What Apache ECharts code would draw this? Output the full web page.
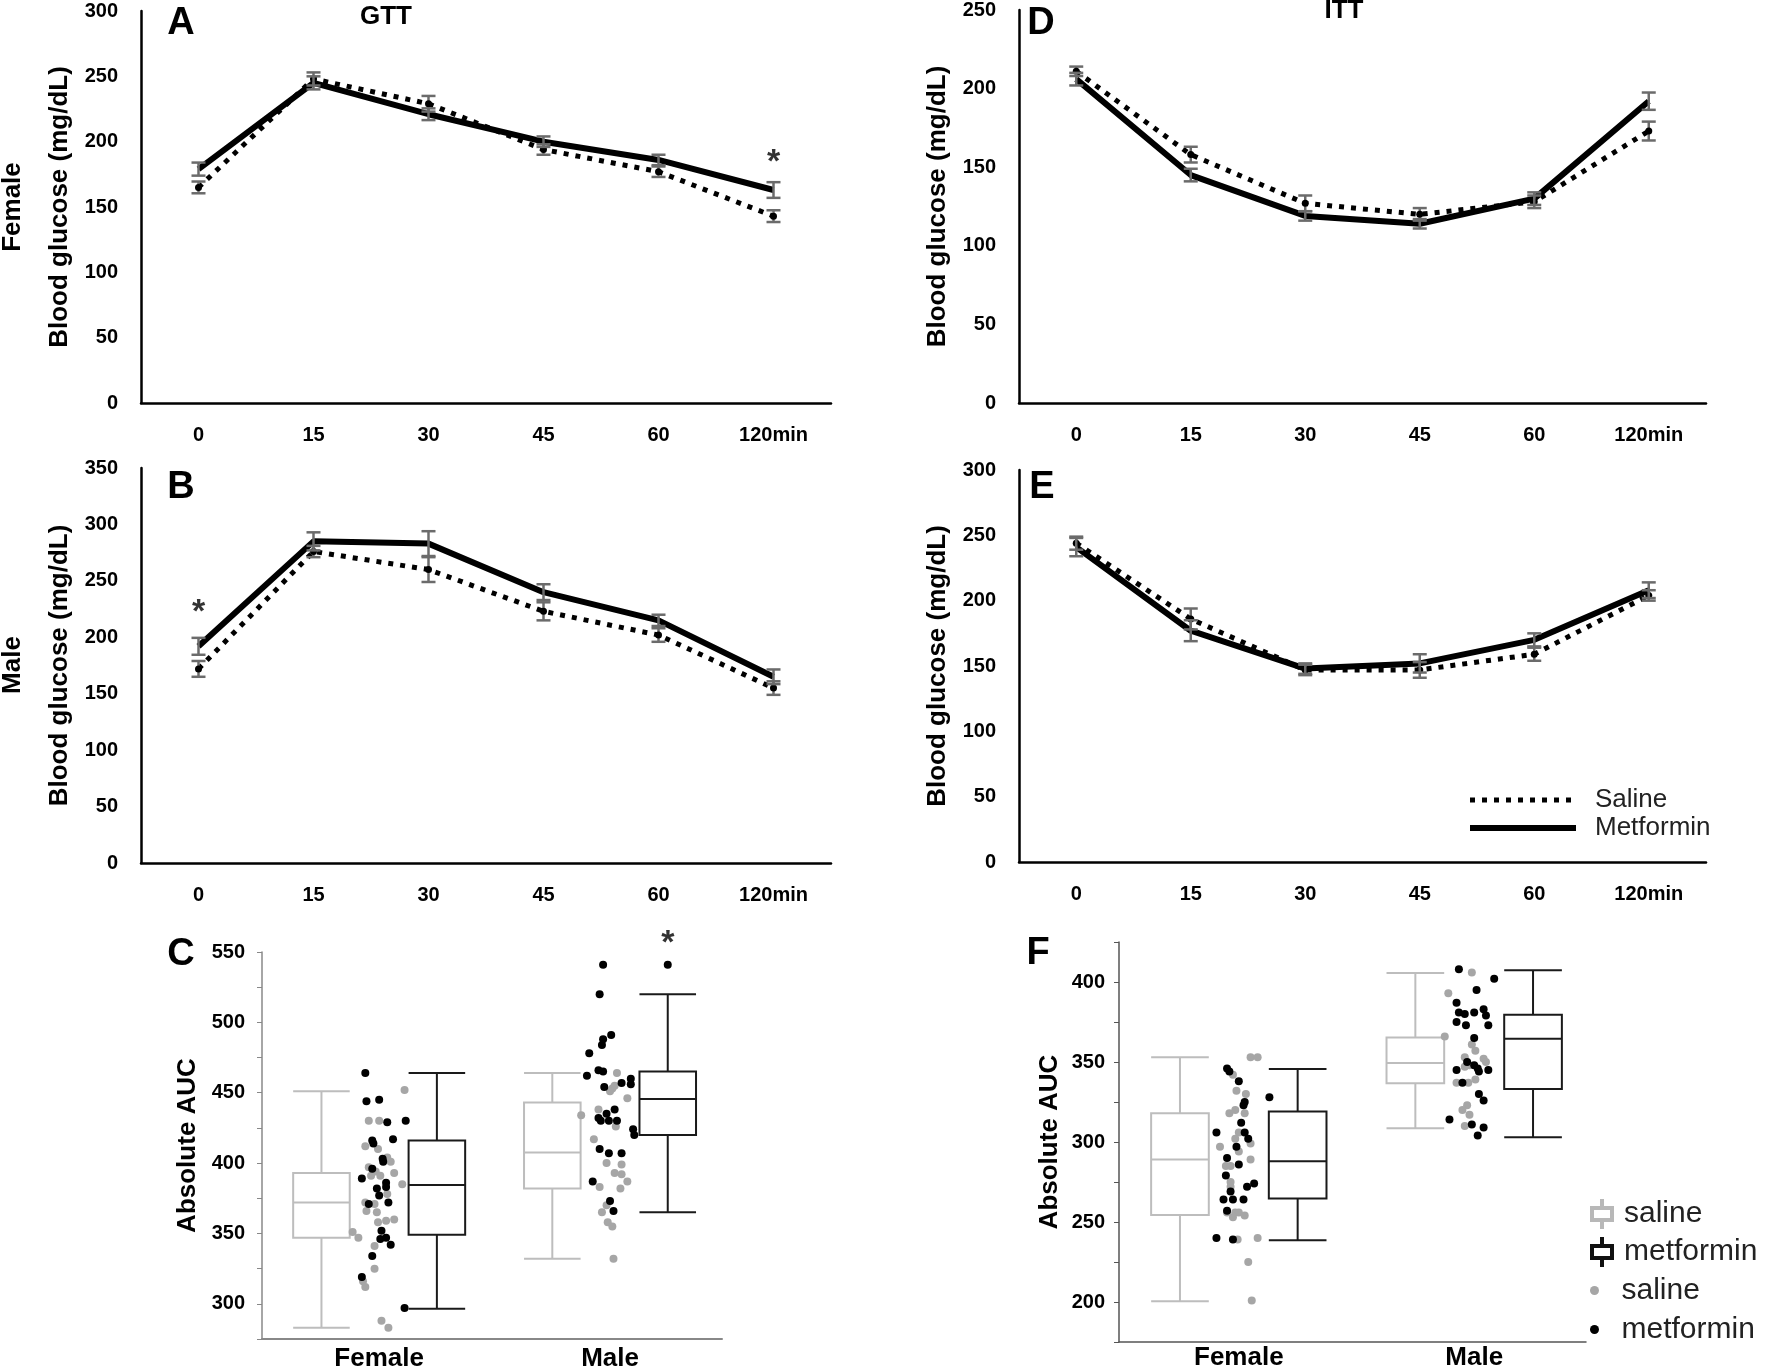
<!DOCTYPE html>
<html>
<head>
<meta charset="utf-8">
<script src="https://cdn.jsdelivr.net/npm/echarts@6/dist/echarts.min.js"></script>
<style>
  html, body { margin: 0; background: #fff; }
  #main { width: 1765px; height: 1372px; }
</style>
</head>
<body>
<div id="main"></div>
<script>
// time points (min)
const timePoints = ['0', '15', '30', '45', '60', '120min'];

// A: GTT female
const gttFemaleSaline = [165, 248, 229, 194, 177, 143];
const gttFemaleSalineErr = [4.5, 5, 6, 4, 4, 4.5];
const gttFemaleMet = [179, 245, 221, 200, 186, 163];
const gttFemaleMetErr = [5, 5, 4.5, 4, 4, 6];

// B: GTT male
const gttMaleSaline = [172, 276, 260, 223, 202, 155];
const gttMaleSalineErr = [7, 5, 11, 8, 6, 6];
const gttMaleMet = [192, 285, 283, 240, 215, 165];
const gttMaleMetErr = [7.5, 8, 11, 7, 5, 6.5];

// D: ITT female
const ittFemaleSaline = [211, 158, 127, 120, 128, 173];
const ittFemaleSalineErr = [3, 5, 5, 4, 4, 6];
const ittFemaleMet = [206, 145, 119, 114, 130, 192];
const ittFemaleMetErr = [4, 4, 3, 3, 4, 5.5];

// E: ITT male
const ittMaleSaline = [244, 186, 147, 147, 159, 204];
const ittMaleSalineErr = [5, 8, 4, 6, 5, 4];
const ittMaleMet = [241, 177, 148, 152, 170, 208];
const ittMaleMetErr = [7, 8, 4, 7, 5, 6];

// significance marks [time index, height]
const starA = [[5, 184]];
const starB = [[0, 222]];

// C / F groups
const groups = ['Female', 'Male'];

// C: GTT AUC boxes [min, q1, median, q3, max] per group
const gttAucSalineBox = [[283, 347, 372, 393, 451], [332, 382, 407.5, 443, 464]];
const gttAucMetBox = [[296.5, 349, 384.5, 416, 464], [365, 420, 445.5, 465, 520]];
const gttAucMetOutliers = [[], [541]];
const starC = [[4, 556]];
// individual animals [jitter, AUC]
const gttFemaleSalineDots = [[-0.23, 351], [-0.18, 347], [-0.12, 412], [-0.09, 430], [0.00, 430], [-0.01, 410],
  [-0.09, 397], [-0.03, 394], [-0.07, 391], [0.01, 391], [0.07, 404], [0.10, 401], [0.13, 393], [0.20, 385],
  [0.22, 452], [-0.12, 372], [-0.11, 366], [-0.04, 371], [-0.02, 365], [-0.01, 358], [0.06, 359], [0.13, 360],
  [-0.04, 341], [-0.04, 325], [-0.12, 312], [-0.14, 316], [0.02, 288], [0.08, 283], [0.07, 378]];
const gttFemaleMetDots = [[-0.12, 464], [-0.11, 444], [0.00, 445], [0.07, 429], [-0.06, 416], [-0.05, 414],
  [0.12, 417], [0.23, 430], [0.03, 403], [0.035, 401], [-0.06, 396], [-0.15, 389], [0.06, 386], [-0.02, 382],
  [0.06, 383], [0.00, 377], [0.08, 372], [-0.09, 371], [0.02, 352], [0.01, 346], [0.06, 347], [0.10, 342],
  [-0.06, 334], [-0.15, 319], [0.22, 297]];
const gttMaleSalineDots = [[0.06, 464], [0.02, 453], [0.04, 455], [0.00, 451], [0.15, 446], [-0.25, 434],
  [-0.10, 438], [0.05, 426], [-0.14, 417], [-0.03, 400], [0.04, 393], [0.10, 399], [0.10, 392], [0.15, 387],
  [-0.09, 383], [0.09, 382], [-0.03, 370], [-0.07, 365], [-0.02, 358], [0.02, 355], [0.03, 332]];
const gttMaleMetDots = [[-0.06, 541], [-0.09, 520], [0.01, 491], [-0.06, 488], [-0.07, 484], [-0.18, 478],
  [-0.10, 466], [-0.06, 465], [-0.20, 462], [-0.05, 454], [0.04, 438], [-0.03, 435], [-0.10, 432], [-0.08, 430],
  [-0.01, 430], [0.06, 430], [0.10, 457], [0.18, 460], [0.18, 456], [0.20, 424], [0.21, 420], [-0.09, 410],
  [-0.01, 407], [0.10, 407], [-0.15, 387], [0.00, 373], [0.03, 366]];

// F: ITT AUC boxes
const ittAucSalineBox = [[200.4, 254.3, 289, 318, 353], [308.6, 336.7, 349.3, 365.3, 405.6]];
const ittAucMetBox = [[238.6, 264.7, 288, 319, 345.7], [303, 333.2, 364.5, 379.5, 407.3]];
const ittFemaleSalineDots = [[0.10, 353], [0.16, 353], [-0.05, 342], [-0.02, 332], [0.06, 330], [-0.08, 318],
  [-0.03, 320], [0.05, 318], [0.00, 306], [-0.16, 297], [-0.03, 302], [0.10, 299], [0.00, 294], [-0.11, 285],
  [-0.07, 285], [0.10, 289], [-0.07, 275], [-0.07, 272], [-0.10, 256], [-0.03, 256], [0.00, 256], [-0.05, 253],
  [0.05, 254], [-0.01, 239], [0.16, 240], [0.08, 225], [0.11, 201]];
const ittFemaleMetDots = [[-0.19, 306], [-0.10, 346], [-0.08, 344], [0.00, 338], [0.05, 325], [0.04, 323],
  [0.02, 312], [0.05, 306], [0.08, 302], [-0.10, 290], [-0.02, 297], [0.00, 286], [-0.11, 279], [-0.07, 269],
  [-0.13, 264], [-0.05, 264], [0.04, 264], [0.07, 272], [0.13, 274], [-0.10, 257], [-0.19, 240], [-0.05, 239],
  [0.26, 328]];
const ittMaleSalineDots = [[-0.02, 406], [-0.22, 393], [-0.25, 366], [-0.02, 361], [0.01, 357], [-0.08, 353],
  [0.08, 352], [0.10, 350], [-0.04, 348], [-0.08, 347], [0.01, 339], [-0.15, 337], [-0.05, 337], [-0.06, 323],
  [-0.10, 320], [-0.04, 317], [-0.08, 310]];
const ittMaleMetDots = [[-0.13, 408], [0.17, 402], [0.02, 395], [-0.15, 387], [-0.13, 381], [-0.08, 380],
  [0.00, 381], [0.08, 383], [0.10, 379], [0.12, 373], [-0.15, 375], [-0.07, 373], [0.00, 365], [-0.06, 350],
  [0.00, 348], [0.04, 344], [0.03, 346], [0.12, 345], [-0.15, 345], [-0.10, 337], [0.04, 330], [0.08, 326],
  [-0.21, 314], [-0.02, 311], [0.08, 309], [0.03, 304]];

// AUC axis label values
const gttAucLabels = [300, 350, 400, 450, 500, 550];
const ittAucLabels = [200, 250, 300, 350, 400];

const FF = '"Liberation Sans", Arial, sans-serif';
const chart = echarts.init(document.getElementById('main'));

function errorBarItem(withDot) {
  return function (params, api) {
    const i = api.value(0), v = api.value(1), e = api.value(2);
    const hi = api.coord([i, v + e]);
    const lo = api.coord([i, v - e]);
    const c = api.coord([i, v]);
    const w = 7;
    const st = { stroke: '#6b6b6b', lineWidth: 2.5 };
    const kids = [
      { type: 'line', shape: { x1: hi[0], y1: hi[1], x2: lo[0], y2: lo[1] }, style: st },
      { type: 'line', shape: { x1: hi[0] - w, y1: hi[1], x2: hi[0] + w, y2: hi[1] }, style: st },
      { type: 'line', shape: { x1: lo[0] - w, y1: lo[1], x2: lo[0] + w, y2: lo[1] }, style: st }
    ];
    if (withDot) kids.push({ type: 'circle', shape: { cx: c[0], cy: c[1], r: 3.5 }, style: { fill: '#000' } });
    return { type: 'group', children: kids };
  };
}

function boxItem(color) {
  return function (params, api) {
    const x = api.value(0);
    const p = [1, 2, 3, 4, 5].map(k => api.coord([x, api.value(k)]));
    const half = api.size([0.49, 0])[0] / 2;
    const cx = p[0][0];
    const st = { stroke: color, lineWidth: 2, fill: null };
    return {
      type: 'group',
      children: [
        { type: 'line', shape: { x1: cx, y1: p[4][1], x2: cx, y2: p[3][1] }, style: st },
        { type: 'line', shape: { x1: cx, y1: p[1][1], x2: cx, y2: p[0][1] }, style: st },
        { type: 'line', shape: { x1: cx - half, y1: p[4][1], x2: cx + half, y2: p[4][1] }, style: st },
        { type: 'line', shape: { x1: cx - half, y1: p[0][1], x2: cx + half, y2: p[0][1] }, style: st },
        { type: 'rect', shape: { x: cx - half, y: p[3][1], width: half * 2, height: p[1][1] - p[3][1] },
          style: { stroke: color, lineWidth: 2, fill: '#fff' } },
        { type: 'line', shape: { x1: cx - half, y1: p[2][1], x2: cx + half, y2: p[2][1] }, style: st }
      ]
    };
  };
}

const lineGrids = [
  { left: 141, top: 11, width: 690, height: 392 },
  { left: 141, top: 468, width: 690, height: 395 },
  { left: 1019, top: 10, width: 687, height: 393 },
  { left: 1019, top: 470, width: 687, height: 392 }
];
const lineMax = [300, 350, 250, 300];
const lineData = [
  [gttFemaleSaline, gttFemaleSalineErr, gttFemaleMet, gttFemaleMetErr, starA],
  [gttMaleSaline, gttMaleSalineErr, gttMaleMet, gttMaleMetErr, starB],
  [ittFemaleSaline, ittFemaleSalineErr, ittFemaleMet, ittFemaleMetErr, []],
  [ittMaleSaline, ittMaleSalineErr, ittMaleMet, ittMaleMetErr, []]
];

const xAxes = [], yAxes = [], series = [];

lineGrids.forEach((g, k) => {
  xAxes.push({
    gridIndex: k, type: 'category', data: timePoints, boundaryGap: true,
    axisLine: { lineStyle: { color: '#000', width: 2.5 } },
    axisTick: { show: false },
    axisLabel: { color: '#000', fontSize: 20, fontWeight: 'bold', fontFamily: FF, margin: 22 }
  });
  yAxes.push({
    gridIndex: k, type: 'value', min: 0, max: lineMax[k], interval: 50,
    name: 'Blood glucose (mg/dL)', nameLocation: 'middle', nameGap: 68,
    nameTextStyle: { color: '#000', fontSize: 26, fontWeight: 'bold', fontFamily: FF },
    axisLine: { show: true, lineStyle: { color: '#000', width: 2.5 } },
    axisTick: { show: false },
    splitLine: { show: false },
    axisLabel: { color: '#000', fontSize: 20, fontWeight: 'bold', fontFamily: FF, margin: 23 }
  });
  const [sal, salErr, met, metErr, star] = lineData[k];
  series.push({
    name: 'Saline', type: 'line', xAxisIndex: k, yAxisIndex: k, data: sal, symbol: 'none', z: 2,
    lineStyle: { color: '#000', width: 5, type: [5, 7] }, itemStyle: { color: '#000' }
  });
  series.push({
    name: 'Metformin', type: 'line', xAxisIndex: k, yAxisIndex: k, data: met, symbol: 'none', z: 2,
    lineStyle: { color: '#000', width: 6 }, itemStyle: { color: '#000' }
  });
  series.push({
    type: 'custom', xAxisIndex: k, yAxisIndex: k, z: 3, silent: true,
    data: sal.map((v, i) => [i, v, salErr[i]]), renderItem: errorBarItem(true)
  });
  series.push({
    type: 'custom', xAxisIndex: k, yAxisIndex: k, z: 3, silent: true,
    data: met.map((v, i) => [i, v, metErr[i]]), renderItem: errorBarItem(false)
  });
  if (star.length) {
    series.push({
      type: 'scatter', xAxisIndex: k, yAxisIndex: k, data: star, symbolSize: 1, silent: true,
      itemStyle: { color: 'transparent' },
      label: { show: true, position: 'inside', formatter: '*', color: '#000', fontSize: 34, fontWeight: 'bold', fontFamily: FF }
    });
  }
});

// box panels
const boxGrids = [
  { left: 262, top: 952, width: 460, height: 390 },
  { left: 1119, top: 942, width: 467, height: 400 }
];
const boxPanels = [
  { xmin: 0.485, xmax: 4.47, ymin: 275, ymax: 550, labels: gttAucLabels, nameGap: 61, labelMargin: 7, yMargin: 17,
    sal: gttAucSalineBox, met: gttAucMetBox, salDots: [gttFemaleSalineDots, gttMaleSalineDots],
    metDots: [gttFemaleMetDots, gttMaleMetDots], outliers: gttAucMetOutliers, star: starC },
  { xmin: 0.482, xmax: 4.45, ymin: 175, ymax: 425, labels: ittAucLabels, nameGap: 56, labelMargin: 3, yMargin: 14,
    sal: ittAucSalineBox, met: ittAucMetBox, salDots: [ittFemaleSalineDots, ittMaleSalineDots],
    metDots: [ittFemaleMetDots, ittMaleMetDots], outliers: [[], []], star: [] }
];

boxPanels.forEach((b, j) => {
  const k = 4 + j;
  xAxes.push({
    gridIndex: k, type: 'value', min: b.xmin, max: b.xmax,
    axisLine: { lineStyle: { color: j === 0 ? '#888' : '#555', width: j === 0 ? 2 : 1.5 } },
    axisTick: { show: false }, splitLine: { show: false },
    axisLabel: {
      customValues: [1.5, 3.5], margin: b.labelMargin,
      formatter: v => groups[Math.round((v - 1.5) / 2)] || '',
      color: '#000', fontSize: 26, fontWeight: 'bold', fontFamily: FF
    }
  });
  yAxes.push({
    gridIndex: k, type: 'value', min: b.ymin, max: b.ymax, interval: 25,
    name: 'Absolute AUC', nameLocation: 'middle', nameGap: b.nameGap,
    nameTextStyle: { color: '#000', fontSize: 26, fontWeight: 'bold', fontFamily: FF },
    axisLine: { show: true, lineStyle: { color: j === 0 ? '#888' : '#555', width: 1.5 } },
    axisTick: { show: true, length: 5, lineStyle: { color: j === 0 ? '#888' : '#555' } },
    splitLine: { show: false },
    axisLabel: {
      margin: b.yMargin, formatter: v => (b.labels.indexOf(v) >= 0 ? String(v) : ''),
      color: '#000', fontSize: 20, fontWeight: 'bold', fontFamily: FF
    }
  });
  series.push({
    name: 'saline box', type: 'custom', xAxisIndex: k, yAxisIndex: k, z: 2,
    itemStyle: { color: '#b8b8b8' },
    data: b.sal.map((s, g) => [2 * g + 1].concat(s)), renderItem: boxItem('#bdbdbd')
  });
  series.push({
    name: 'metformin box', type: 'custom', xAxisIndex: k, yAxisIndex: k, z: 2,
    itemStyle: { color: '#111' },
    data: b.met.map((s, g) => [2 * g + 2].concat(s)), renderItem: boxItem('#1a1a1a')
  });
  const salPts = [], metPts = [];
  b.salDots.forEach((arr, g) => arr.forEach(d => salPts.push([2 * g + 1.5 + d[0], d[1]])));
  b.metDots.forEach((arr, g) => arr.forEach(d => metPts.push([2 * g + 1.5 + d[0], d[1]])));
  b.outliers.forEach((arr, g) => arr.forEach(v => metPts.push([2 * g + 2, v])));
  series.push({
    name: 'saline dot', type: 'scatter', xAxisIndex: k, yAxisIndex: k, z: 3, symbolSize: 8,
    itemStyle: { color: '#a6a6a6', opacity: 1 }, data: salPts
  });
  series.push({
    name: 'metformin dot', type: 'scatter', xAxisIndex: k, yAxisIndex: k, z: 4, symbolSize: 8,
    itemStyle: { color: '#000', opacity: 1 }, data: metPts
  });
  if (b.star.length) {
    series.push({
      type: 'scatter', xAxisIndex: k, yAxisIndex: k, data: b.star, symbolSize: 1, silent: true, clip: false,
      itemStyle: { color: 'transparent' },
      label: { show: true, position: 'inside', formatter: '*', color: '#000', fontSize: 34, fontWeight: 'bold', fontFamily: FF }
    });
  }
});

const boxIcon = 'path://M0 7L24 7L24 23L0 23Z M4 11L4 19L20 19L20 11Z M10 0L14 0L14 7L10 7Z M10 23L14 23L14 30L10 30Z';

function txt(text, x, y, size, rot) {
  return {
    type: 'text', x: x, y: y, rotation: rot || 0, silent: true,
    style: { text: text, fill: '#000', font: 'bold ' + size + 'px ' + FF, align: 'center', verticalAlign: 'middle' }
  };
}

chart.setOption({
  animation: false,
  backgroundColor: '#fff',
  grid: lineGrids.concat(boxGrids),
  xAxis: xAxes,
  yAxis: yAxes,
  legend: [
    {
      orient: 'vertical', left: 1462, top: 782, itemWidth: 106, itemHeight: 20, itemGap: 2, selectedMode: false,
      itemStyle: { opacity: 0, color: 'transparent', borderWidth: 0 },
      data: [
        { name: 'Saline', lineStyle: { width: 5, type: [5, 7], color: '#000' } },
        { name: 'Metformin', lineStyle: { width: 6, type: 'solid', color: '#000' } }
      ],
      textStyle: { fontSize: 26, lineHeight: 26, color: '#222', fontFamily: FF, padding: [0, 0, 0, 14] }
    },
    {
      orient: 'vertical', left: 1585, top: 1191, itemWidth: 26, itemHeight: 30, itemGap: 2, selectedMode: false,
      data: [
        { name: 'saline box', icon: boxIcon, itemStyle: { color: '#b8b8b8', borderWidth: 0 } },
        { name: 'metformin box', icon: boxIcon, itemStyle: { color: '#111', borderWidth: 0 } }
      ],
      formatter: n => n.split(' ')[0],
      textStyle: { fontSize: 30, lineHeight: 36, color: '#222', fontFamily: FF, padding: [0, 0, 0, 4] }
    },
    {
      orient: 'vertical', left: 1585, top: 1266, itemWidth: 26, itemHeight: 9, itemGap: 0, selectedMode: false,
      icon: 'circle',
      data: ['saline dot', 'metformin dot'],
      formatter: n => n.split(' ')[0],
      textStyle: { fontSize: 30, lineHeight: 39, color: '#222', fontFamily: FF, padding: [0, 0, 0, 9] }
    }
  ],
  graphic: [
    txt('A', 181, 24, 38), txt('B', 181, 488, 38), txt('C', 181, 955, 38),
    txt('D', 1041, 24, 38), txt('E', 1042, 488, 38), txt('F', 1038, 954, 38),
    txt('GTT', 386, 17, 26), txt('ITT', 1344, 11, 26),
    txt('Female', 13, 207, 26, Math.PI / 2), txt('Male', 13, 665, 26, Math.PI / 2)
  ],
  series: series
});
</script>
</body>
</html>
